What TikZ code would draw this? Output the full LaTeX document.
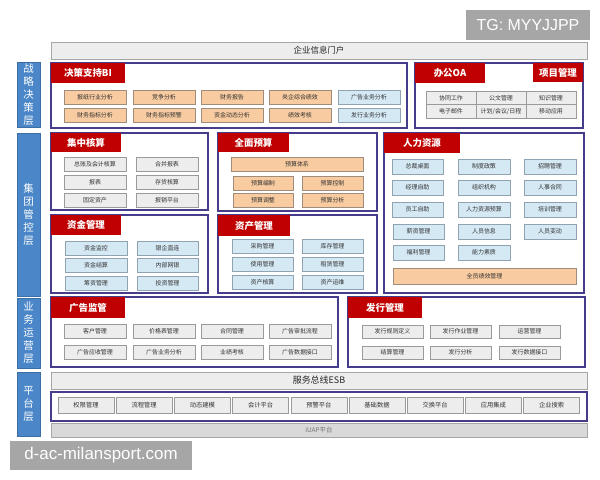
\documentclass[tikz,border=0pt]{standalone}
\usepackage{fontspec}
\setmainfont{Noto Sans CJK SC}
\newfontfamily\wmfont{Liberation Sans}
\definecolor{tabred}{HTML}{C00000}
\definecolor{pborder}{HTML}{463C8C}
\definecolor{ofill}{HTML}{F8CBA0}
\definecolor{oborder}{HTML}{A08C7A}
\definecolor{bfill}{HTML}{D5E9F5}
\definecolor{bborder}{HTML}{8FA3B3}
\definecolor{gfill}{HTML}{EDEDED}
\definecolor{gborder}{HTML}{9A9A9A}
\definecolor{lblue}{HTML}{4A86C8}
\definecolor{lbborder}{HTML}{3A6EA5}
\definecolor{wmgray}{HTML}{A6A6A6}
\newcommand\bx[7]{\node[#1,minimum width=#5bp,minimum height=#6bp] (#2) at (#3,#4) {#7};}
\tikzset{
  base/.style={anchor=north west, inner sep=0pt, outer sep=0pt, align=center},
  itembase/.style={base, line width=0.6pt, text=black!80, font=\fontsize{6}{7}\selectfont},
  gitem/.style={itembase, draw=gborder, fill=gfill},
  oitem/.style={itembase, draw=oborder, fill=ofill},
  bitem/.style={itembase, draw=bborder, fill=bfill},
  cell/.style={itembase, draw=gborder, fill=gfill},
  frame/.style={base, draw=pborder, line width=1.2pt, fill=white},
  tab/.style={base, fill=tabred, text=white, font=\fontsize{9.5}{10}\bfseries\selectfont},
  layer/.style={base, fill=lblue, draw=lbborder, line width=0.6pt, text=white, font=\fontsize{10.5}{13}\selectfont},
  bar/.style={base, draw=gray!70, line width=0.6pt, fill=gfill, text=black!85, font=\fontsize{8.5}{9}\selectfont},
  iuapbar/.style={base, draw=gray!70, line width=0.6pt, fill=gray!30, text=black!55, font=\fontsize{6.5}{7}\selectfont},
  wmark/.style={base, fill=wmgray, text=white, font=\wmfont\fontsize{16}{18}\selectfont},
}
\begin{document}
\begin{tikzpicture}[x=1bp,y=-1bp]
\useasboundingbox (0,0) rectangle (600,480);
\fill[white] (0,0) rectangle (600,480);
% watermark top
\bx{wmark}{tg}{466}{10}{124}{30}{TG: MYYJJPP}
% portal
\bx{bar}{portal}{51}{42}{536}{17}{企业信息门户}
% layers
\bx{layer}{l1}{17}{62}{23}{65}{战\\略\\决\\策\\层}
\bx{layer}{l2}{17}{133}{23}{163}{集\\团\\管\\控\\层}
\bx{layer}{l3}{17}{298}{23}{70}{业\\务\\运\\营\\层}
\bx{layer}{l4}{17}{372}{23}{64}{平\\台\\层}
% BI
\bx{frame}{bi}{51}{63}{356}{65}{}
\bx{tab}{bit}{51}{63}{74}{20}{决策支持BI}
\bx{oitem}{bi1}{64}{90}{62}{14}{报纸行业分析}
\bx{oitem}{bi2}{133}{90}{62}{14}{竞争分析}
\bx{oitem}{bi3}{201}{90}{62}{14}{财务报告}
\bx{oitem}{bi4}{269}{90}{62}{14}{央企综合绩效}
\bx{bitem}{bi5}{338}{90}{62}{14}{广告业务分析}
\bx{oitem}{bi6}{64}{108}{62}{14}{财务指标分析}
\bx{oitem}{bi7}{133}{108}{62}{14}{财务指标预警}
\bx{oitem}{bi8}{201}{108}{62}{14}{资金动态分析}
\bx{oitem}{bi9}{269}{108}{62}{14}{绩效考核}
\bx{bitem}{bi10}{338}{108}{62}{14}{发行业务分析}
% OA
\bx{frame}{oa}{415}{63}{168}{65}{}
\bx{tab}{oat}{415}{63}{70}{20}{办公OA}
\bx{tab}{pmt}{533}{63}{50}{19}{项目管理}
\bx{cell}{oa1}{426}{91}{50}{13.5}{协同工作}
\bx{cell}{oa2}{476}{91}{50}{13.5}{公文管理}
\bx{cell}{oa3}{526}{91}{50}{13.5}{知识管理}
\bx{cell}{oa4}{426}{104.5}{50}{13.5}{电子邮件}
\bx{cell}{oa5}{476}{104.5}{50}{13.5}{计划/会议/日程}
\bx{cell}{oa6}{526}{104.5}{50}{13.5}{移动应用}
% 集中核算
\bx{frame}{jz}{51}{133}{157}{77}{}
\bx{tab}{jzt}{51}{133}{70}{19}{集中核算}
\bx{gitem}{jz1}{64}{157}{62}{14}{总账及会计核算}
\bx{gitem}{jz2}{136}{157}{62}{14}{合并报表}
\bx{gitem}{jz3}{64}{175}{62}{14}{报表}
\bx{gitem}{jz4}{136}{175}{62}{14}{存货核算}
\bx{gitem}{jz5}{64}{193}{62}{14}{固定资产}
\bx{gitem}{jz6}{136}{193}{62}{14}{报销平台}
% 全面预算
\bx{frame}{qm}{218}{133}{159}{78}{}
\bx{tab}{qmt}{218}{133}{71}{19}{全面预算}
\bx{oitem}{qm0}{231}{157}{132}{14}{预算体系}
\bx{oitem}{qm1}{233}{176}{60}{14}{预算编制}
\bx{oitem}{qm2}{302}{176}{61}{14}{预算控制}
\bx{oitem}{qm3}{233}{193}{60}{14}{预算调整}
\bx{oitem}{qm4}{302}{193}{61}{14}{预算分析}
% 人力资源
\bx{frame}{hr}{384}{133}{200}{160}{}
\bx{tab}{hrt}{384}{133}{76}{20}{人力资源}
\bx{bitem}{hr1}{392}{159}{51}{15}{总裁桌面}
\bx{bitem}{hr2}{458}{159}{52}{15}{制度政策}
\bx{bitem}{hr3}{524}{159}{52}{15}{招聘管理}
\bx{bitem}{hr4}{392}{180}{51}{15}{经理自助}
\bx{bitem}{hr5}{458}{180}{52}{15}{组织机构}
\bx{bitem}{hr6}{524}{180}{52}{15}{人事合同}
\bx{bitem}{hr7}{392}{202}{51}{15}{员工自助}
\bx{bitem}{hr8}{458}{202}{52}{15}{人力资源预算}
\bx{bitem}{hr9}{524}{202}{52}{15}{培训管理}
\bx{bitem}{hr10}{393}{224}{51}{15}{薪资管理}
\bx{bitem}{hr11}{458}{224}{52}{15}{人员信息}
\bx{bitem}{hr12}{524}{224}{52}{15}{人员变动}
\bx{bitem}{hr13}{393}{245}{51}{15}{福利管理}
\bx{bitem}{hr14}{458}{245}{52}{15}{能力素质}
\bx{oitem}{hr15}{393}{268}{183}{16}{全员绩效管理}
% 资金管理
\bx{frame}{zj}{51}{215}{157}{78}{}
\bx{tab}{zjt}{51}{215}{70}{20}{资金管理}
\bx{bitem}{zj1}{65}{241}{62}{14}{资金监控}
\bx{bitem}{zj2}{137}{241}{61}{14}{银企直连}
\bx{bitem}{zj3}{65}{258}{62}{14}{资金结算}
\bx{bitem}{zj4}{137}{258}{61}{14}{内部网银}
\bx{bitem}{zj5}{65}{276}{62}{14}{筹资管理}
\bx{bitem}{zj6}{137}{276}{61}{14}{投资管理}
% 资产管理
\bx{frame}{zc}{218}{215}{159}{78}{}
\bx{tab}{zct}{218}{215}{72}{21}{资产管理}
\bx{bitem}{zc1}{232}{239}{61}{14}{采购管理}
\bx{bitem}{zc2}{302}{239}{61}{14}{库存管理}
\bx{bitem}{zc3}{232}{257}{61}{14}{使用管理}
\bx{bitem}{zc4}{302}{257}{61}{14}{租赁管理}
\bx{bitem}{zc5}{232}{275}{61}{14}{资产核算}
\bx{bitem}{zc6}{302}{275}{61}{14}{资产运维}
% 广告监管
\bx{frame}{gg}{51}{297}{287}{70}{}
\bx{tab}{ggt}{51}{297}{74}{21}{广告监管}
\bx{gitem}{gg1}{64}{324}{62}{14}{客户管理}
\bx{gitem}{gg2}{133}{324}{62}{14}{价格表管理}
\bx{gitem}{gg3}{201}{324}{62}{14}{合同管理}
\bx{gitem}{gg4}{269}{324}{62}{14}{广告审批流程}
\bx{gitem}{gg5}{64}{345}{62}{14}{广告应收管理}
\bx{gitem}{gg6}{133}{345}{62}{14}{广告业务分析}
\bx{gitem}{gg7}{201}{345}{62}{14}{业绩考核}
\bx{gitem}{gg8}{269}{345}{62}{14}{广告数据接口}
% 发行管理
\bx{frame}{fx}{348}{297}{237}{70}{}
\bx{tab}{fxt}{348}{297}{74}{21}{发行管理}
\bx{gitem}{fx1}{362}{325}{61}{13}{发行规则定义}
\bx{gitem}{fx2}{430}{325}{61}{13}{发行作业管理}
\bx{gitem}{fx3}{499}{325}{61}{13}{运营管理}
\bx{gitem}{fx4}{362}{346}{61}{13}{结算管理}
\bx{gitem}{fx5}{430}{346}{61}{13}{发行分析}
\bx{gitem}{fx6}{499}{346}{61}{13}{发行数据接口}
% platform
\bx{bar}{esb}{51}{372}{536}{17}{\fontsize{9}{10}\selectfont 服务总线ESB}
\bx{frame}{pf}{51}{392}{536}{29}{}
\foreach \t [count=\i] in {权限管理,流程管理,动态建模,会计平台,预警平台,基础数据,交换平台,应用集成,企业搜索}{
  \node[gitem, minimum width=56bp, minimum height=16bp, font=\fontsize{6.3}{7}\selectfont] (p\i) at ({58+(\i-1)*58.2},397) {\t};
}
\bx{iuapbar}{iuap}{51}{423}{536}{14}{iUAP平台}
% watermark bottom
\bx{wmark}{dac}{10}{441}{182}{29}{\fontsize{17}{19}\selectfont d-ac-milansport.com}
\end{tikzpicture}
\end{document}
